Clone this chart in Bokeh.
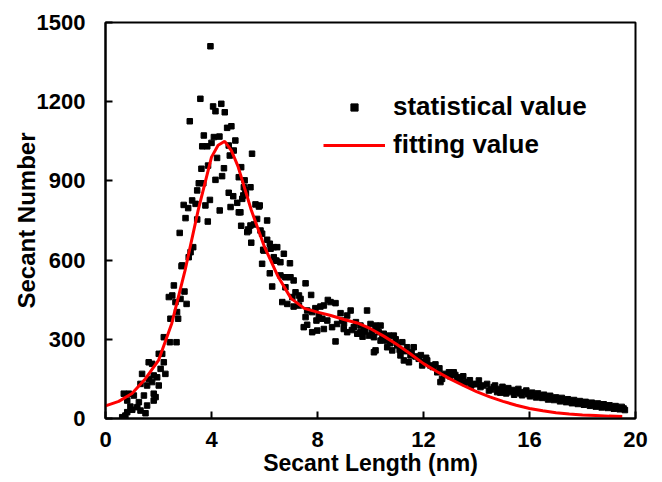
from bokeh.plotting import figure
from bokeh.models import Range1d, FixedTicker, Legend, LegendItem
from bokeh.embed import file_html
from bokeh.resources import INLINE

# statistical values
stat_x = [0.63, 0.69, 0.75, 0.82, 0.82, 0.88, 0.94, 1.01, 1.07, 1.2, 1.26, 1.32, 1.32, 1.38, 1.45,
          1.51, 1.57, 1.57, 1.63, 1.63, 1.76, 1.76, 1.82, 1.82, 1.82, 1.89, 1.95, 2.01, 2.01, 2.08,
          2.14, 2.2, 2.2, 2.26, 2.39, 2.43, 2.45, 2.52, 2.58, 2.64, 2.68, 2.7, 2.74, 2.8, 2.83,
          2.87, 2.89, 2.95, 2.98, 3.02, 3.06, 3.12, 3.14, 3.18, 3.21, 3.27, 3.31, 3.4, 3.46, 3.46,
          3.52, 3.58, 3.62, 3.65, 3.69, 3.71, 3.77, 3.84, 3.86, 3.87, 3.94, 3.96, 4.0, 4.06, 4.09,
          4.15, 4.15, 4.21, 4.3, 4.31, 4.37, 4.4, 4.47, 4.5, 4.59, 4.65, 4.65, 4.69, 4.72, 4.75,
          4.82, 4.84, 4.9, 4.97, 5.03, 5.03, 5.09, 5.12, 5.12, 5.16, 5.2, 5.22, 5.25, 5.28, 5.3,
          5.35, 5.38, 5.41, 5.47, 5.47, 5.5, 5.53, 5.6, 5.66, 5.72, 5.79, 5.82, 5.85, 5.91, 5.91,
          5.95, 5.97, 6.1, 6.1, 6.2, 6.2, 6.23, 6.29, 6.35, 6.35, 6.42, 6.45, 6.48, 6.6, 6.6,
          6.67, 6.73, 6.79, 6.79, 6.86, 6.96, 6.98, 7.05, 7.1, 7.1, 7.17, 7.3, 7.3, 7.36, 7.48,
          7.55, 7.55, 7.61, 7.61, 7.76, 7.8, 7.8, 7.92, 7.96, 7.99, 8.05, 8.11, 8.18, 8.24, 8.24,
          8.37, 8.39, 8.49, 8.55, 8.68, 8.68, 8.74, 8.87, 8.93, 8.99, 9.0, 9.12, 9.12, 9.25, 9.3,
          9.37, 9.45, 9.5, 9.62, 9.62, 9.7, 9.75, 9.8, 9.87, 9.94, 10.0, 10.05, 10.13, 10.13, 10.19,
          10.19, 10.25, 10.31, 10.38, 10.38, 10.45, 10.5, 10.6, 10.63, 10.69, 10.75, 10.82, 10.88, 10.95, 11.01,
          11.1, 11.13, 11.2, 11.26, 11.3, 11.38, 11.45, 11.51, 11.55, 11.63, 11.7, 11.82, 11.9, 11.95, 12.0,
          12.1, 12.14, 12.26, 12.35, 12.45, 12.52, 12.6, 12.64, 12.7, 12.77, 12.85, 12.96, 13.0, 13.14, 13.2,
          13.27, 13.35, 13.4, 13.5, 13.55, 13.65, 13.75, 13.8, 13.9, 14.0, 14.09, 14.15, 14.25, 14.4, 14.47,
          14.55, 14.65, 14.7, 14.78, 14.85, 14.9, 14.98, 15.05, 15.12, 15.2, 15.28, 15.35, 15.42, 15.5, 15.58,
          15.65, 15.72, 15.8, 15.88, 15.95, 16.02, 16.1, 16.18, 16.25, 16.32, 16.4, 16.48, 16.55, 16.62, 16.7,
          16.78, 16.85, 16.92, 17.0, 17.08, 17.15, 17.22, 17.3, 17.38, 17.45, 17.52, 17.6, 17.68, 17.75, 17.82,
          17.9, 17.98, 18.05, 18.12, 18.2, 18.28, 18.35, 18.42, 18.5, 18.58, 18.65, 18.72, 18.8, 18.88, 18.95,
          19.02, 19.1, 19.18, 19.25, 19.32, 19.4, 19.48, 19.55, 19.6]
stat_y = [5, 94, 11, 24, 68, 94, 45, 33, 87, 43, 62, 131, 30, 169, 87,
          20, 125, 49, 213, 150, 207, 138, 163, 94, 68, 81, 156, 245, 125, 188,
          245, 308, 213, 169, 460, 289, 378, 466, 504, 441, 289, 403, 378, 703, 453,
          577, 580, 809, 481, 759, 434, 797, 611, 1126, 630, 826, 649, 813, 864, 754,
          891, 1211, 946, 1031, 891, 1072, 807, 1031, 746, 958, 828, 1410, 1044, 1182, 1066,
          1164, 904, 987, 1068, 788, 1192, 918, 948, 1160, 1101, 1034, 855, 996, 801, 1107,
          842, 1015, 1053, 817, 914, 781, 781, 952, 730, 832, 845, 876, 902, 864, 851,
          706, 716, 712, 876, 731, 666, 1003, 735, 811, 756, 803, 807, 712, 700, 586,
          639, 636, 750, 677, 662, 550, 643, 500, 611, 649, 598, 598, 649, 592, 542,
          441, 624, 535, 497, 434, 588, 535, 460, 523, 424, 478, 466, 428, 453, 346,
          512, 384, 409, 355, 468, 403, 327, 418, 371, 333, 390, 424, 378, 428, 339,
          371, 449, 441, 346, 437, 292, 358, 399, 371, 339, 360, 390, 327, 409, 335,
          346, 365, 321, 327, 352, 310, 339, 330, 409, 314, 358, 330, 308, 251, 352,
          258, 340, 327, 352, 295, 305, 321, 295, 270, 314, 285, 258, 314, 300, 277,
          260, 239, 289, 220, 255, 270, 213, 239, 250, 270, 235, 226, 240, 201, 215,
          230, 220, 201, 195, 205, 175, 190, 138, 150, 169, 165, 175, 160, 175, 165,
          156, 150, 144, 160, 135, 138, 145, 125, 131, 130, 144, 119, 125, 131, 106,
          110, 119, 125, 100, 112, 98, 120, 105, 95, 115, 100, 108, 90, 102, 112,
          95, 88, 100, 106, 92, 84, 98, 90, 80, 95, 86, 78, 90, 83, 72,
          86, 77, 70, 80, 74, 65, 78, 70, 62, 73, 66, 58, 70, 62, 55,
          66, 58, 52, 63, 55, 48, 60, 52, 45, 57, 48, 42, 54, 46, 40,
          50, 43, 37, 47, 40, 35, 44, 38, 32]

# fitting curve
fit_x = [0, 0.5, 1, 1.5, 2, 2.5, 3, 3.5, 4, 4.25, 4.5, 4.75, 5, 5.5, 6, 6.5, 7, 7.5, 8, 8.5,
         9, 9.5, 10, 10.5, 11, 11.5, 12, 12.5, 13, 13.5, 14, 14.5, 15, 15.5, 16, 16.5, 17, 17.5,
         18, 18.5, 19, 19.5]
fit_y = [48, 65, 95, 150, 220, 360, 560, 790, 990, 1035, 1050, 1015, 955, 790, 650, 540, 455, 417, 403, 390,
         375, 362, 340, 312, 280, 245, 208, 178, 150, 125, 102, 82, 65, 50, 38, 29, 22, 17,
         13, 11, 9, 8]

x_ticks = [0, 4, 8, 12, 16, 20]
y_ticks = [0, 300, 600, 900, 1200, 1500]

FONT = "Liberation Sans"

p = figure(width=662, height=482, output_backend="svg", toolbar_location=None,
           x_range=Range1d(0, 20), y_range=Range1d(0, 1500),
           min_border_left=105, min_border_right=27, min_border_top=22, min_border_bottom=64)
p.background_fill_color = "white"
p.border_fill_color = "white"
p.grid.visible = False
p.outline_line_color = "black"
p.outline_line_width = 2

sc = p.scatter(stat_x, stat_y, marker="square", size=5.5, color="black")
ln = p.line(fit_x, fit_y, line_color="red", line_width=3)

for ax in [p.xaxis[0], p.yaxis[0]]:
    ax.axis_line_width = 2
    ax.major_tick_line_width = 2
    ax.major_tick_in = 7
    ax.major_tick_out = 0
    ax.minor_tick_line_color = None
    ax.major_label_text_font = FONT
    ax.major_label_text_font_style = "bold"
    ax.major_label_text_font_size = "22px"
    ax.major_label_text_color = "black"
    ax.axis_label_text_font = FONT
    ax.axis_label_text_font_style = "bold"
    ax.axis_label_text_color = "black"

p.xaxis.ticker = FixedTicker(ticks=x_ticks)
p.yaxis.ticker = FixedTicker(ticks=y_ticks)
p.xaxis.axis_label = "Secant Length (nm)"
p.yaxis.axis_label = "Secant Number"
p.xaxis.axis_label_text_font_size = "23px"
p.yaxis.axis_label_text_font_size = "24px"
p.xaxis.major_label_standoff = 13
p.xaxis.axis_label_standoff = 0
p.yaxis.major_label_standoff = 20
p.yaxis.axis_label_standoff = -6

legend = Legend(items=[LegendItem(label="statistical value", renderers=[sc]),
                       LegendItem(label="fitting value", renderers=[ln])],
                location=(218, 258), padding=0, margin=0, spacing=7,
                glyph_width=62, glyph_height=18, label_height=30, label_standoff=8,
                border_line_color=None, background_fill_alpha=0,
                label_text_font=FONT, label_text_font_style="bold",
                label_text_font_size="26px", label_text_color="black")
p.add_layout(legend)

open("out.html", "w").write(file_html(p, INLINE))
